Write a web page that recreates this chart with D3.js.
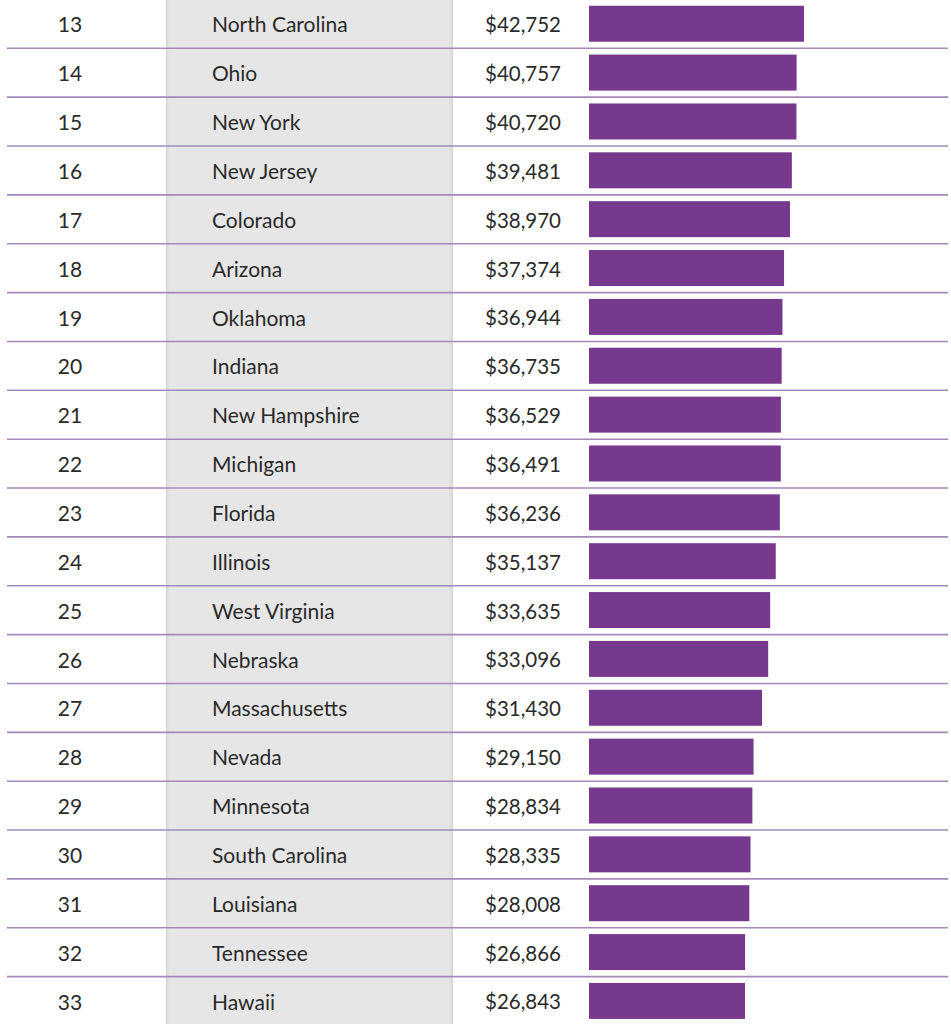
<!DOCTYPE html>
<html>
<head>
<meta charset="utf-8">
<script src="https://cdn.jsdelivr.net/npm/d3@7"></script>
<style>
  html, body { margin: 0; padding: 0; background: #fff; }
  svg { display: block; }
  text { font-family: Lato, "Open Sans", sans-serif; fill: #2a2a2a; }
</style>
</head>
<body>
<svg id="chart"></svg>
<script>
const width = 951;
const height = 1024;

// table data
const ranks = [13, 14, 15, 16, 17, 18, 19, 20, 21, 22, 23, 24, 25, 26, 27, 28, 29, 30, 31, 32, 33];
const states = [
  'North Carolina', 'Ohio', 'New York', 'New Jersey', 'Colorado', 'Arizona',
  'Oklahoma', 'Indiana', 'New Hampshire', 'Michigan', 'Florida', 'Illinois',
  'West Virginia', 'Nebraska', 'Massachusetts', 'Nevada', 'Minnesota',
  'South Carolina', 'Louisiana', 'Tennessee', 'Hawaii'
];
const amounts = [
  42752, 40757, 40720, 39481, 38970, 37374, 36944, 36735, 36529, 36491,
  36236, 35137, 33635, 33096, 31430, 29150, 28834, 28335, 28008, 26866, 26843
];

const rows = ranks.map((r, i) => ({ rank: r, state: states[i], amount: amounts[i] }));

const svg = d3.select('#chart')
  .attr('width', width)
  .attr('height', height);

const defs = svg.append('defs');
const shade = defs.append('linearGradient')
  .attr('id', 'colShade')
  .attr('x1', 0).attr('x2', 1).attr('y1', 0).attr('y2', 0);
shade.append('stop').attr('offset', '0%').attr('stop-color', '#d4d4d4');
shade.append('stop').attr('offset', '1.2%').attr('stop-color', '#e6e6e6');
shade.append('stop').attr('offset', '98.8%').attr('stop-color', '#e6e6e6');
shade.append('stop').attr('offset', '100%').attr('stop-color', '#d2d2d2');

// rows: first one is partly cut off at the top
const rowH = 48.86;
const top0 = -0.56;
const y = d3.scaleBand()
  .domain(ranks)
  .range([top0, top0 + rowH * ranks.length])
  .paddingInner(0)
  .paddingOuter(0);

// bar lengths
const barLeft = 589;
const x = d3.scaleLinear()
  .domain([26843, 42752])
  .range([156, 215]);

// grey state column
svg.append('rect')
  .attr('x', 166)
  .attr('y', 0)
  .attr('width', 287)
  .attr('height', height)
  .attr('fill', 'url(#colShade)');

const row = svg.append('g')
  .selectAll('g')
  .data(rows)
  .join('g')
  .attr('transform', d => `translate(0,${y(d.rank)})`);

row.append('line')
  .attr('x1', 7)
  .attr('x2', 948)
  .attr('y1', rowH)
  .attr('y2', rowH)
  .attr('stroke', '#a688ba')
  .attr('stroke-width', 1.6);

row.append('rect')
  .attr('x', barLeft)
  .attr('y', 6.3)
  .attr('width', d => x(d.amount))
  .attr('height', 36)
  .attr('fill', '#76398e');

const labelY = rowH / 2 + 1.2;

row.append('text')
  .attr('x', 70)
  .attr('y', labelY)
  .attr('dy', '0.35em')
  .attr('text-anchor', 'middle')
  .style('font-size', '21px')
  .text(d => d.rank);

row.append('text')
  .attr('x', 212)
  .attr('y', labelY)
  .attr('dy', '0.35em')
  .style('font-size', '21px')
  .text(d => d.state);

row.append('text')
  .attr('x', 561)
  .attr('y', labelY)
  .attr('dy', '0.35em')
  .attr('text-anchor', 'end')
  .style('font-size', '20.5px')
  .text(d => d3.format('$,')(d.amount));
</script>
</body>
</html>
